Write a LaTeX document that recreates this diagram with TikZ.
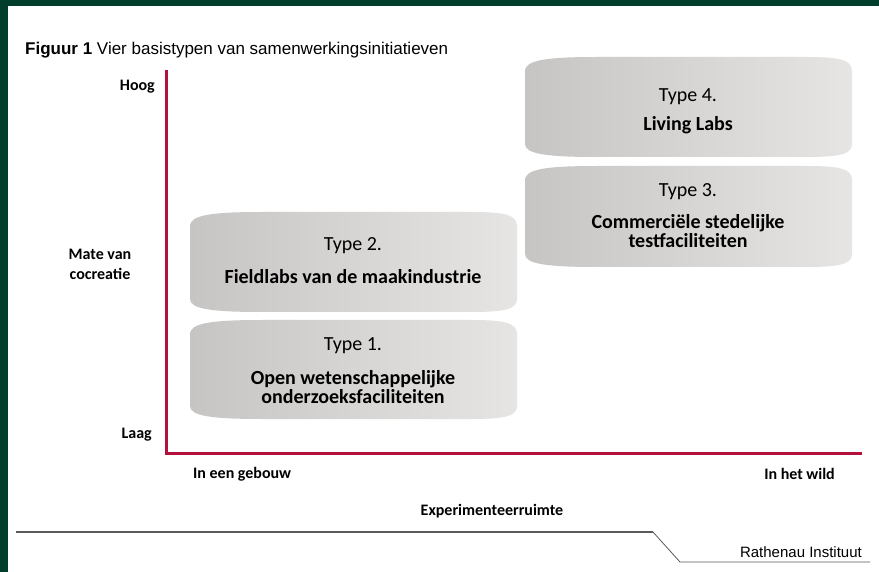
\documentclass[tikz,border=0pt]{standalone}
\usepackage{fontspec}
\setmainfont{Carlito}
\newfontfamily\arialfont{Liberation Sans}
\definecolor{bordergreen}{HTML}{003D2B}
\definecolor{axisred}{HTML}{B3103C}
\definecolor{boxL}{HTML}{C6C5C3}
\definecolor{boxR}{HTML}{E6E5E3}
\definecolor{rulegray}{HTML}{5A5A5A}
\newcommand\cushionbox[4]{%
  \shade[left color=boxL,right color=boxR]
    (#1,#4-13) -- (#1,#2+14) .. controls (#1,#2+3) and (#1+22,#2) .. (#1+72,#2)
    -- (#3-45,#2) .. controls (#3-12,#2) and (#3,#2+3) .. (#3,#2+14)
    -- (#3,#4-13) .. controls (#3,#4-3) and (#3-12,#4) .. (#3-45,#4)
    -- (#1+72,#4) .. controls (#1+22,#4) and (#1,#4-3) .. (#1,#4-13) -- cycle;}
\begin{document}
\begin{tikzpicture}[x=1pt,y=-1pt,
  typetext/.style={inner sep=0pt,font=\fontsize{20}{20}\selectfont},
  nametext/.style={inner sep=0pt,align=center,font=\fontsize{20}{19}\selectfont\bfseries},
  axislabel/.style={inner sep=0pt,font=\fontsize{16}{20}\selectfont\bfseries},
  axisline/.style={draw=axisred,line width=3pt},
  ruleline/.style={draw=rulegray,line width=1.3pt}]
\useasboundingbox (0,0) rectangle (879,572);
\fill[white] (0,0) rectangle (879,572);
\fill[bordergreen] (0,0) rectangle (879,6);
\fill[bordergreen] (0,0) rectangle (8,572);

% title
\node[anchor=base west,inner sep=0pt,font=\arialfont\fontsize{17}{20}\selectfont] (title) at (25,55)
  {\textbf{Figuur 1} Vier basistypen van samenwerkingsinitiatieven};

% boxes
\cushionbox{525}{57}{852}{157}
\cushionbox{525}{166}{852}{267}
\cushionbox{190}{212}{517}{312}
\cushionbox{190}{320}{517}{419}

\node[typetext] (t4) at (688,97) {Type 4.};
\node[nametext] (n4) at (688,125) {Living Labs};
\node[typetext] (t3) at (688,192) {Type 3.};
\node[nametext] (n3) at (688,231.5) {Commerciële stedelijke\\testfaciliteiten};
\node[typetext] (t2) at (353,246) {Type 2.};
\node[nametext] (n2) at (353,277) {Fieldlabs van de maakindustrie};
\node[typetext] (t1) at (353,346) {Type 1.};
\node[nametext] (n1) at (353,387) {Open wetenschappelijke\\onderzoeksfaciliteiten};

% axes
\coordinate (ytop) at (166,70);
\coordinate (orig) at (166,453);
\coordinate (xend) at (862,453);
\draw[axisline] (ytop) -- (orig) -- (xend);

\node[axislabel,anchor=east] (hoog) at (155,87) {Hoog};
\node[axislabel,align=center] (mate) at (100,264) {Mate van\\cocreatie};
\node[axislabel,anchor=east] (laag) at (152,435) {Laag};
\node[axislabel,anchor=west] (gebouw) at (193,474) {In een gebouw};
\node[axislabel,anchor=east] (wild) at (835,474) {In het wild};
\node[axislabel] (exp) at (492,511) {Experimenteerruimte};

% bottom rule
\coordinate (r0) at (16,532);
\coordinate (r1) at (653,532);
\coordinate (r2) at (680,562);
\coordinate (r3) at (870,562);
\draw[ruleline] (r0) -- (r1);
\draw[draw=rulegray,line width=0.8pt] (r1) -- (r2) -- (r3);
\node[anchor=base east,inner sep=0pt,font=\arialfont\fontsize{15}{18}\selectfont] (rath) at (862,557) {Rathenau Instituut};
\end{tikzpicture}
\end{document}
